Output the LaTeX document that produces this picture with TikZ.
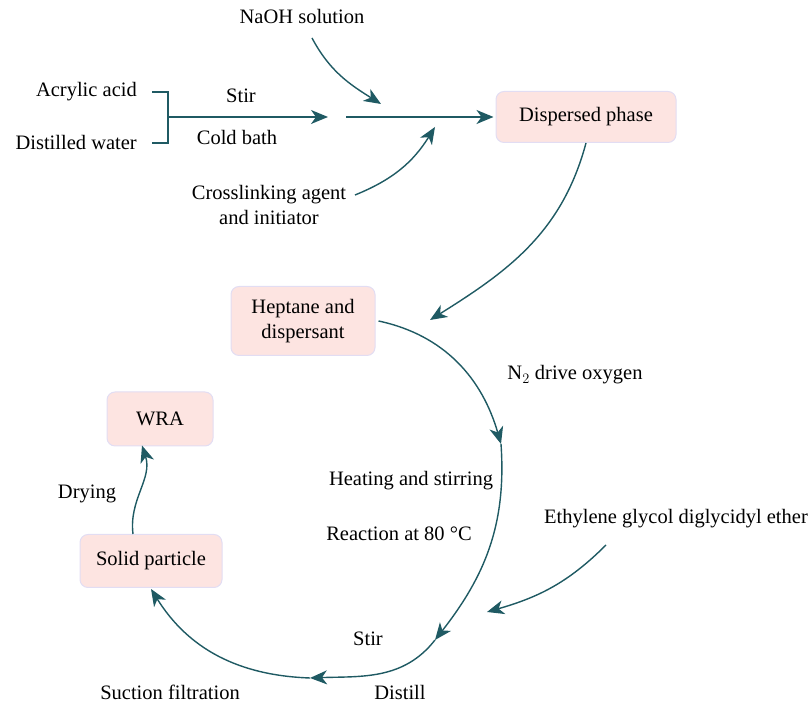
\documentclass[tikz,border=0pt]{standalone}
\usepackage{fontspec}
\setmainfont{Liberation Serif}
\usetikzlibrary{arrows.meta}

\definecolor{arrowcol}{HTML}{1F5A63}
\definecolor{boxfill}{HTML}{FDE4E1}
\definecolor{boxline}{HTML}{E2DDF3}

\tikzset{
  box/.style={draw=boxline, fill=boxfill, line width=1pt, rounded corners=8pt, align=center, inner sep=0pt},
  line/.style={draw=arrowcol, line width=1.4pt},
  lbl/.style={align=center, inner sep=0pt},
}

\begin{document}
\begin{tikzpicture}[x=1pt,y=1pt,>={Stealth[length=17pt,width=14pt,inset=5pt]},
  font=\fontsize{20.5}{25}\selectfont]

\useasboundingbox (0,0) rectangle (811,708);

% Raw materials
\node[lbl] (naoh) at (302,691) {NaOH solution};
\node[lbl, anchor=east] (acrylic) at (137,616) {Acrylic acid};
\node[lbl, anchor=east] (water) at (137,565) {Distilled water};
\node[lbl] (cross) at (269,503) {Crosslinking agent\\and initiator};

% Boxes
\node[box, minimum width=180pt, minimum height=51pt] (disp) at (586,591) {Dispersed phase};
\node[box, minimum width=144pt, minimum height=69pt] (hept) at (303,387) {Heptane and\\dispersant};
\node[box, minimum width=142pt, minimum height=53pt] (solid) at (151,147) {Solid particle};
\node[box, minimum width=106pt, minimum height=54pt] (wra) at (160,289) {WRA};

% Step labels
\node[lbl] (stir1) at (241,612) {Stir};
\node[lbl] (cold) at (237,570) {Cold bath};
\node[lbl] (ntwo) at (575,333) {N$_2$ drive oxygen};
\node[lbl] (heat) at (411,227) {Heating and stirring};
\node[lbl] (react) at (399,174) {Reaction at 80 °C};
\node[lbl] (ethyl) at (676,189) {Ethylene glycol diglycidyl ether};
\node[lbl] (stir2) at (368,69) {Stir};
\node[lbl] (distill) at (400,16) {Distill};
\node[lbl] (suction) at (170,16) {Suction filtration};
\node[lbl] (drying) at (87,214) {Drying};

% Helper points
\coordinate (join) at (168,591);
\coordinate (mixA) at (328,591);
\coordinate (mixB) at (346,591);
\coordinate (naohOut) at (312,670);
\coordinate (naohIn) at (381,604);
\coordinate (crossOut) at (355,513);
\coordinate (crossIn) at (435,581);
\coordinate (heptIn) at (430,388);
\coordinate (arcA) at (501,264);
\coordinate (arcB) at (435,68);
\coordinate (arcC) at (310,30);
\coordinate (ethylOut) at (606,163);
\coordinate (ethylIn) at (487,96);

% Mixing of the monomer
\draw[line] ([xshift=15pt]acrylic.east) -| (join) |- ([xshift=15pt]water.east);
\draw[line,->] (join) -- (mixA);
\draw[line,->] (mixB) -- ([xshift=-2pt]disp.west);
\draw[line,->] (naohOut) to[out=-62,in=148] (naohIn);
\draw[line,->] (crossOut) to[out=22,in=238] (crossIn);

% Into the oil phase
\draw[line,->] (disp.south) to[out=-105,in=32] (heptIn);

% Reaction loop
\draw[line,->] ([xshift=3pt]hept.east) to[out=-12,in=106] (arcA);
\draw[line,->] (arcA) to[out=-86,in=52] (arcB);
\draw[line,->] (arcB) to[out=-128,in=2] (arcC);
\draw[line,->] (arcC) to[out=178,in=-58] ([yshift=-1pt]solid.south);
\draw[line,->] (ethylOut) to[out=-135,in=16] (ethylIn);

% Drying
\draw[line,->] ([xshift=-18pt]solid.north) to[out=97,in=-72] ([xshift=-18pt,yshift=1pt]wra.south);

\end{tikzpicture}
\end{document}
